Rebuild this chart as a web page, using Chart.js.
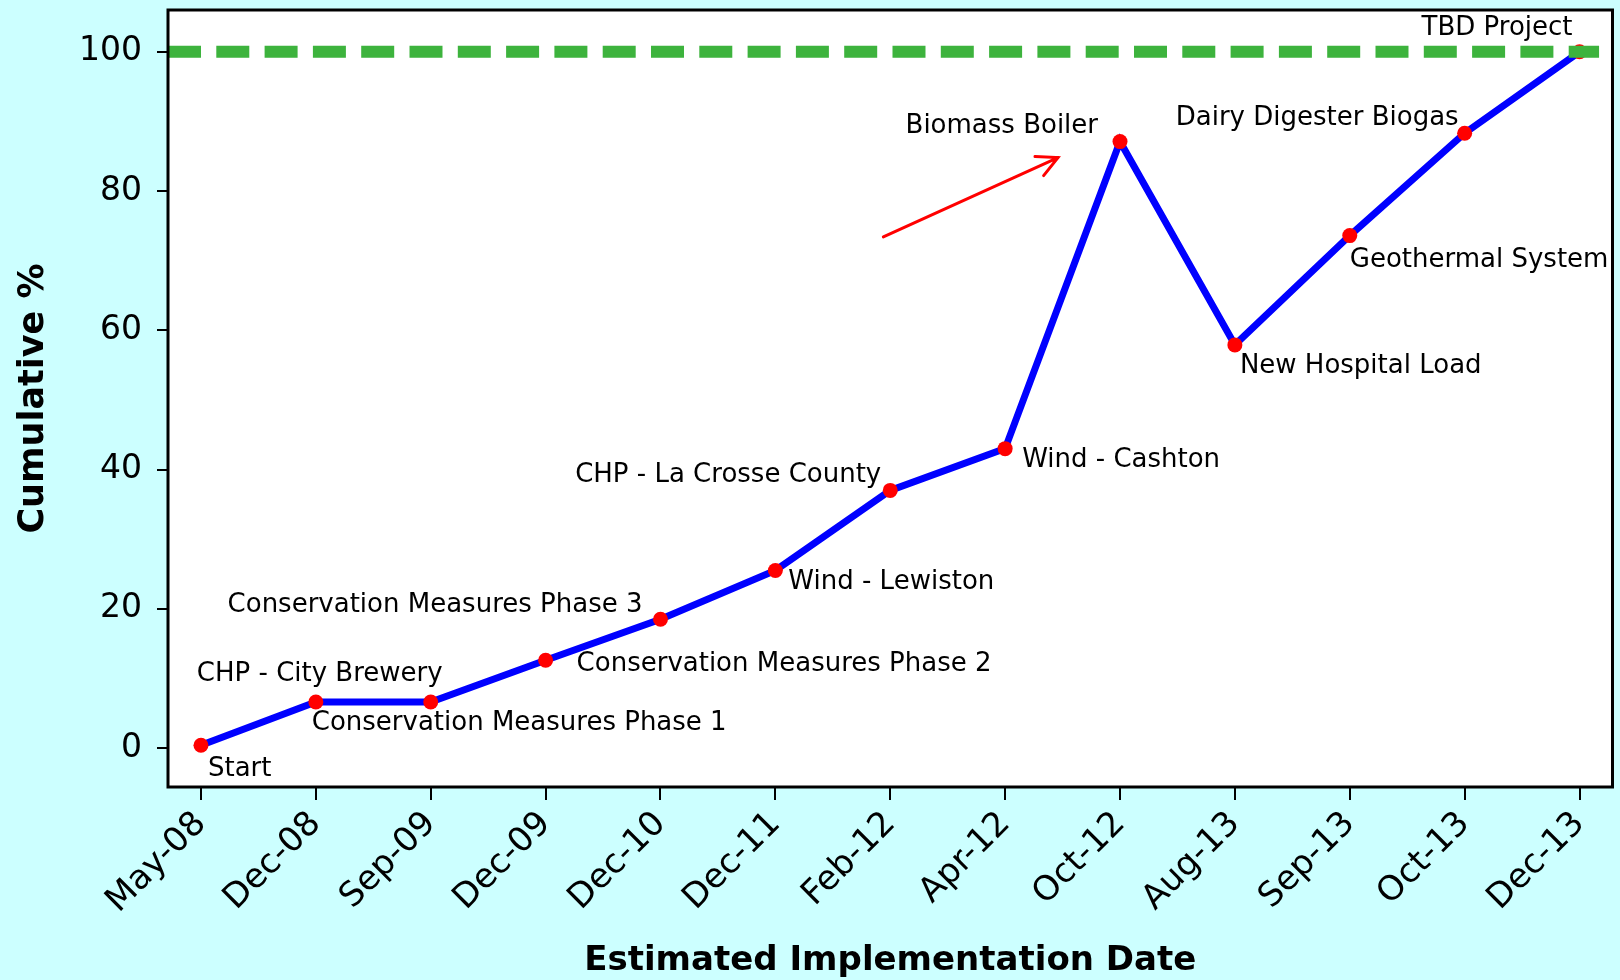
<!DOCTYPE html>
<html>
<head>
<meta charset="utf-8">
<title>Cumulative %</title>
<script src="https://cdn.jsdelivr.net/npm/chart.js@4.4.1/dist/chart.umd.min.js"></script>
<style>
    html, body { margin: 0; padding: 0; background: #ccffff; }
    #wrap { width: 1620px; height: 980px; }
</style>
</head>
<body>
<div id="wrap"><canvas id="chart" width="1620" height="980"></canvas></div>
<script>
// Chart data
const dates = ['May-08', 'Dec-08', 'Sep-09', 'Dec-09', 'Dec-10', 'Dec-11', 'Feb-12',
    'Apr-12', 'Oct-12', 'Aug-13', 'Sep-13', 'Oct-13', 'Dec-13'];
const cumulative = [0.4, 6.6, 6.6, 12.6, 18.5, 25.5, 37.0, 43.0, 87.1, 57.9, 73.6, 88.3, 100];
const projects = ['Start', 'CHP - City Brewery', 'Conservation Measures Phase 1',
    'Conservation Measures Phase 2', 'Conservation Measures Phase 3', 'Wind - Lewiston',
    'CHP - La Crosse County', 'Wind - Cashton', 'Biomass Boiler', 'New Hospital Load',
    'Geothermal System', 'Dairy Digester Biogas', 'TBD Project'];
const yTicks = [0, 20, 40, 60, 80, 100];
const target = 100;

// Arrow pointing at the biomass boiler peak (data units: [x index, y %])
const arrowFrom = [5.94, 73.4];
const arrowTo = [7.46, 84.8];

// Where each project label sits relative to its point (pixels)
const labelLayout = [
    { align: 'left', dx: 7, dy: 24 },
    { align: 'left', dx: -119, dy: -28 },
    { align: 'left', dx: -119, dy: 21 },
    { align: 'left', dx: 31, dy: 4 },
    { align: 'right', dx: -18, dy: -14 },
    { align: 'left', dx: 13, dy: 12 },
    { align: 'right', dx: -9, dy: -15 },
    { align: 'left', dx: 17, dy: 12 },
    { align: 'right', dx: -22, dy: -15 },
    { align: 'left', dx: 5, dy: 21 },
    { align: 'left', dx: 0, dy: 25 },
    { align: 'right', dx: -6, dy: -15 },
    { align: 'right', dx: -7, dy: -24 }
];

const xMin = -0.287;
const xMax = 12.287;

Chart.defaults.font.family = "'DejaVu Sans', sans-serif";
Chart.defaults.color = '#000';

// White plot area with black frame
const plotFrame = {
    id: 'plotFrame',
    beforeDraw(chart) {
        const { ctx, chartArea: a } = chart;
        ctx.save();
        ctx.fillStyle = '#fff';
        ctx.fillRect(a.left, a.top, a.right - a.left, a.bottom - a.top);
        ctx.restore();
    },
    afterDraw(chart) {
        const { ctx, chartArea: a } = chart;
        ctx.save();
        ctx.strokeStyle = '#000';
        ctx.lineWidth = 3;
        ctx.strokeRect(a.left, a.top, a.right - a.left, a.bottom - a.top);
        ctx.restore();
    }
};

// Project names next to points, plus the red arrow
const annotations = {
    id: 'annotations',
    afterDatasetsDraw(chart) {
        const { ctx, scales: { x, y } } = chart;
        ctx.save();
        ctx.font = "26px 'DejaVu Sans', sans-serif";
        ctx.fillStyle = '#000';
        ctx.textBaseline = 'middle';
        projects.forEach((name, i) => {
            const lay = labelLayout[i];
            ctx.textAlign = lay.align;
            ctx.fillText(name, x.getPixelForValue(i) + lay.dx, y.getPixelForValue(cumulative[i]) + lay.dy);
        });

        const x1 = x.getPixelForValue(arrowFrom[0]);
        const y1 = y.getPixelForValue(arrowFrom[1]);
        const x2 = x.getPixelForValue(arrowTo[0]);
        const y2 = y.getPixelForValue(arrowTo[1]);
        const ang = Math.atan2(y2 - y1, x2 - x1);
        const head = 23;
        ctx.strokeStyle = '#ff0000';
        ctx.lineWidth = 3;
        ctx.lineCap = 'round';
        ctx.beginPath();
        ctx.moveTo(x1, y1);
        ctx.lineTo(x2, y2);
        ctx.moveTo(x2 + head * Math.cos(ang + Math.PI - 0.47), y2 + head * Math.sin(ang + Math.PI - 0.47));
        ctx.lineTo(x2, y2);
        ctx.lineTo(x2 + head * Math.cos(ang + Math.PI + 0.47), y2 + head * Math.sin(ang + Math.PI + 0.47));
        ctx.stroke();
        ctx.restore();
    }
};

new Chart(document.getElementById('chart'), {
    type: 'line',
    data: {
        datasets: [
            {
                // 100% target line, drawn on top
                data: [{ x: xMin, y: target }, { x: dates.length - 1 + 0.17, y: target }],
                borderColor: '#3db33d',
                borderWidth: 12,
                borderDash: [33, 15.3],
                borderCapStyle: 'butt',
                pointRadius: 0,
                order: 0
            },
            {
                data: cumulative.map((v, i) => ({ x: i, y: v })),
                borderColor: '#0000ff',
                borderWidth: 7,
                pointBackgroundColor: '#ff0000',
                pointBorderWidth: 0,
                pointRadius: 7.5,
                tension: 0,
                order: 1
            }
        ]
    },
    options: {
        responsive: false,
        animation: false,
        layout: { padding: { top: 10, right: 5, left: 0, bottom: 0 } },
        plugins: {
            legend: { display: false },
            tooltip: { enabled: false }
        },
        scales: {
            x: {
                type: 'linear',
                min: xMin,
                max: xMax,
                afterBuildTicks: s => { s.ticks = dates.map((d, i) => ({ value: i })); },
                afterFit: s => { s.height = 193; s.paddingLeft = 0; s.paddingRight = 0; },
                border: { display: false },
                grid: { drawOnChartArea: false, drawTicks: true, tickLength: 13, color: '#000', lineWidth: 2 },
                ticks: {
                    autoSkip: false,
                    minRotation: 45,
                    maxRotation: 45,
                    padding: 4,
                    color: '#000',
                    font: { size: 34 },
                    callback: v => dates[v]
                },
                title: {
                    display: true,
                    text: 'Estimated Implementation Date',
                    color: '#000',
                    font: { size: 34, weight: 'bold', lineHeight: 1 },
                    padding: { top: 0, bottom: 2 }
                }
            },
            y: {
                min: -5.6,
                max: 106,
                afterBuildTicks: s => { s.ticks = yTicks.map(v => ({ value: v })); },
                afterFit: s => { s.width = 168; s.paddingTop = 0; s.paddingBottom = 0; },
                border: { display: false },
                grid: { drawOnChartArea: false, drawTicks: true, tickLength: 11, color: '#000', lineWidth: 2 },
                ticks: { padding: 15, color: '#000', font: { size: 33 } },
                title: {
                    display: true,
                    text: 'Cumulative %',
                    color: '#000',
                    font: { size: 35, weight: 'bold', lineHeight: 1 },
                    padding: { top: 16, bottom: 0 }
                }
            }
        }
    },
    plugins: [plotFrame, annotations]
});
</script>
</body>
</html>
